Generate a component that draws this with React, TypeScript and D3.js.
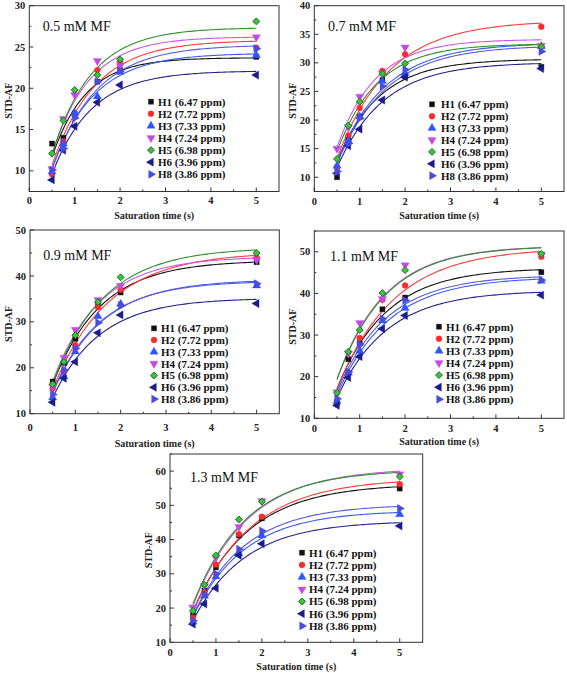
import React from "react";
import * as d3 from "d3";

// Saturation times (s)
const TIMES = [0.5, 0.75, 1, 1.5, 2, 5];
const SERIES = [
  "H1 (6.47 ppm)",
  "H2 (7.72 ppm)",
  "H3 (7.33 ppm)",
  "H4 (7.24 ppm)",
  "H5 (6.98 ppm)",
  "H6 (3.96 ppm)",
  "H8 (3.86 ppm)",
];
const X_TICKS = [0, 1, 2, 3, 4, 5];

// STD-AF values, rows = H1,H2,H3,H4,H5,H6,H8 ; columns = TIMES
const MF05 = [
  [13.3, 14.0, 16.9, 20.8, 22.2, 23.8],
  [9.6, 13.6, 16.8, 22.2, 23.2, 24.9],
  [9.9, 13.3, 17.0, 19.0, 22.0, 24.0],
  [10.2, 16.3, 19.2, 23.3, 22.7, 26.2],
  [12.1, 16.1, 19.8, 21.6, 23.5, 28.1],
  [8.9, 12.5, 15.4, 18.3, 20.4, 21.6],
  [10.1, 12.7, 16.4, 20.8, 22.1, 24.8],
];
const MF07 = [
  [10.0, 16.8, 20.6, 27.0, 27.6, 29.3],
  [11.8, 17.3, 22.1, 28.6, 31.5, 36.3],
  [12.0, 16.4, 20.6, 26.8, 28.2, 32.9],
  [15.0, 18.8, 24.1, 28.2, 32.7, 33.0],
  [13.2, 19.0, 23.2, 28.1, 29.9, 32.8],
  [10.7, 15.5, 18.4, 23.5, 27.5, 29.0],
  [11.0, 15.9, 20.3, 25.9, 28.8, 32.0],
];
const MF09 = [
  [17.0, 21.1, 26.3, 33.9, 36.4, 43.0],
  [15.5, 19.3, 24.9, 33.2, 37.0, 44.0],
  [13.5, 18.1, 23.5, 31.2, 33.9, 37.9],
  [15.9, 22.2, 28.3, 34.8, 37.9, 43.5],
  [16.4, 21.3, 27.1, 34.3, 39.7, 45.0],
  [12.5, 17.7, 21.3, 27.6, 31.5, 34.0],
  [14.2, 19.5, 24.2, 29.8, 33.5, 38.3],
];
const MF11 = [
  [14.0, 24.2, 28.0, 36.2, 39.0, 45.1],
  [13.5, 21.0, 29.3, 38.5, 41.9, 48.8],
  [14.1, 20.9, 26.2, 33.5, 36.5, 43.0],
  [16.3, 25.6, 32.9, 38.7, 46.8, 49.4],
  [16.1, 26.0, 31.2, 40.1, 45.6, 49.5],
  [13.1, 19.8, 24.8, 31.5, 34.7, 39.6],
  [14.7, 21.1, 27.8, 33.9, 38.3, 43.2],
];
const MF13 = [
  [18.0, 25.1, 31.9, 41.2, 46.2, 54.9],
  [17.2, 24.6, 32.7, 41.6, 46.7, 56.2],
  [16.0, 23.6, 29.2, 35.9, 41.2, 47.4],
  [20.2, 26.5, 34.7, 43.7, 51.3, 59.1],
  [19.2, 26.8, 35.4, 45.9, 51.1, 58.4],
  [15.3, 21.2, 25.8, 35.4, 38.8, 44.0],
  [16.3, 23.9, 30.0, 37.2, 42.5, 49.1],
];

const COLORS = ["#111111", "#ff2a2a", "#2f55ff", "#c44ae6", "#39c439", "#1c1c8c", "#4b4bdc"];
const LINE_COLORS = ["#111111", "#ff3a3a", "#3a5cf0", "#c85ae8", "#2f8f2f", "#22228c", "#5a5ae0"];
const SHAPES = ["square", "circle", "up", "down", "diamond", "left", "right"];

const PANELS = [
  { title: "0.5 mM MF", data: MF05, l: 29.3, r: 279, t: 5.7, b: 191.5, yd: [7.5, 30], yt: [10, 15, 20, 25, 30], minor: 2.5,
    tx: 42.7, ty: 31, lmx: 151, ltx: 158, ly: 101.7, ls: 12.1, ytx: 8, xly: 204, xty: 218.5 },
  { title: "0.7 mM MF", data: MF07, l: 314.3, r: 564, t: 5.7, b: 191.5, yd: [7.5, 40], yt: [10, 15, 20, 25, 30, 35, 40], minor: 2.5,
    tx: 328, ty: 31, lmx: 432, ltx: 441, ly: 104.3, ls: 11.9, ytx: 292, xly: 205, xty: 218.5 },
  { title: "0.9 mM MF", data: MF09, l: 30, r: 279.3, t: 230, b: 413.7, yd: [10, 50], yt: [10, 20, 30, 40, 50], minor: 5,
    tx: 43.3, ty: 260, lmx: 154, ltx: 161, ly: 328.3, ls: 11.8, ytx: 8, xly: 430.5, xty: 446.5 },
  { title: "1.1 mM MF", data: MF11, l: 314.3, r: 564, t: 231, b: 418.3, yd: [10, 55], yt: [10, 20, 30, 40, 50], minor: 5,
    tx: 330, ty: 261, lmx: 439, ltx: 446, ly: 326.7, ls: 12.1, ytx: 292, xly: 431.5, xty: 445 },
  { title: "1.3 mM MF", data: MF13, l: 170, r: 422.7, t: 454, b: 642.3, yd: [10, 65], yt: [10, 20, 30, 40, 50, 60], minor: 5,
    tx: 190, ty: 482, lmx: 302, ltx: 309, ly: 552.7, ls: 12.2, ytx: 148, xly: 655.5, xty: 669.5 },
];

function fitExp(ts: number[], ys: number[]) {
  let best = { A: 0, k: 0, sse: Infinity };
  for (let k = 0.05; k <= 6; k += 0.002) {
    let sf = 0, sff = 0;
    ts.forEach((t, i) => { const f = 1 - Math.exp(-k * t); sf += ys[i] * f; sff += f * f; });
    const A = sf / sff;
    let sse = 0;
    ts.forEach((t, i) => { const r = ys[i] - A * (1 - Math.exp(-k * t)); sse += r * r; });
    if (sse < best.sse) best = { A, k, sse };
  }
  return best;
}

function symbolPath(shape: string) {
  switch (shape) {
    case "square": return { d: d3.symbol(d3.symbolSquare, 27)()!, rot: 0 };
    case "circle": return { d: d3.symbol(d3.symbolCircle, 28)()!, rot: 0 };
    case "diamond": return { d: d3.symbol(d3.symbolSquare, 24)()!, rot: 45 };
    case "up": return { d: d3.symbol(d3.symbolTriangle, 30)()!, rot: 0 };
    case "down": return { d: d3.symbol(d3.symbolTriangle, 30)()!, rot: 180 };
    case "left": return { d: d3.symbol(d3.symbolTriangle, 30)()!, rot: -90 };
    default: return { d: d3.symbol(d3.symbolTriangle, 30)()!, rot: 90 };
  }
}

function Marker({ x, y, i }: { x: number; y: number; i: number }) {
  const s = symbolPath(SHAPES[i]);
  const isH5 = i === 4;
  return (
    <path
      d={s.d}
      transform={`translate(${x},${y}) rotate(${s.rot})`}
      fill={COLORS[i]}
      stroke={isH5 ? "#1f6a1f" : COLORS[i]}
      strokeWidth={isH5 ? 0.9 : 0.3}
    />
  );
}

const SERIF = "'Liberation Serif', 'Times New Roman', serif";

function Panel({ p }: { p: typeof PANELS[number] }) {
  const x = d3.scaleLinear().domain([0, 5.5]).range([p.l, p.r]);
  const y = d3.scaleLinear().domain(p.yd).range([p.b, p.t]);
  const curveTs = d3.range(0.5, 5.0001, 0.05);
  const line = d3.line<number[]>().x((d) => x(d[0])).y((d) => y(d[1]));
  const xMinor = d3.range(0.5, 5.5, 1);
  const yMinor = d3.range(p.yd[0], p.yd[1] + 0.001, p.minor).filter((v) => !p.yt.includes(v));
  const fits = p.data.map((row) => fitExp(TIMES, row));
  const axisColor = "#333";
  return (
    <g>
      {fits.map((f, i) => (
        <path
          key={"c" + i}
          d={line(curveTs.map((t) => [t, f.A * (1 - Math.exp(-f.k * t))]))!}
          fill="none"
          stroke={LINE_COLORS[i]}
          strokeWidth={1.1}
        />
      ))}
      {p.data.map((row, i) =>
        row.map((v, j) => <Marker key={`m${i}-${j}`} x={x(TIMES[j])} y={y(v)} i={i} />)
      )}
      <rect x={p.l} y={p.t} width={p.r - p.l} height={p.b - p.t} fill="none" stroke={axisColor} strokeWidth={1} />
      {X_TICKS.map((v) => (
        <g key={"xt" + v}>
          <line x1={x(v)} x2={x(v)} y1={p.b} y2={p.b - 4} stroke={axisColor} />
          <text x={x(v)} y={p.xly} textAnchor="middle" fontFamily={SERIF} fontWeight="bold" fontSize={10.5} fill="#222">{v}</text>
        </g>
      ))}
      {xMinor.map((v) => (
        <line key={"xm" + v} x1={x(v)} x2={x(v)} y1={p.b} y2={p.b - 2} stroke={axisColor} />
      ))}
      {p.yt.map((v) => (
        <g key={"yt" + v}>
          <line x1={p.l} x2={p.l + 4} y1={y(v)} y2={y(v)} stroke={axisColor} />
          <text x={p.l - 4} y={y(v) + 3.6} textAnchor="end" fontFamily={SERIF} fontWeight="bold" fontSize={10.5} fill="#222">{v}</text>
        </g>
      ))}
      {yMinor.map((v) => (
        <line key={"ym" + v} x1={p.l} x2={p.l + 2} y1={y(v)} y2={y(v)} stroke={axisColor} />
      ))}
      <text x={p.tx} y={p.ty} fontFamily={SERIF} fontSize={14} fill="#111">{p.title}</text>
      <text x={(p.l + p.r) / 2} y={p.xty} textAnchor="middle" fontFamily={SERIF} fontWeight="bold" fontSize={10} fill="#222">Saturation time (s)</text>
      <text
        transform={`translate(${p.ytx + 3.5},${(p.t + p.b) / 2 + 2}) rotate(-90)`}
        textAnchor="middle"
        fontFamily={SERIF}
        fontWeight="bold"
        fontSize={10}
        fill="#222"
      >STD-AF</text>
      {SERIES.map((s, i) => (
        <g key={"lg" + i}>
          <Marker x={p.lmx} y={p.ly + i * p.ls} i={i} />
          <text x={p.ltx} y={p.ly + i * p.ls + 3.8} fontFamily={SERIF} fontWeight="bold" fontSize={11} fill="#111">{s}</text>
        </g>
      ))}
    </g>
  );
}

export default function App() {
  return (
    <svg width={567} height={673} style={{ position: "absolute", left: 0, top: 0, background: "#fff" }}>
      <rect x={0} y={0} width={567} height={673} fill="#fff" />
      {PANELS.map((p, i) => <Panel key={i} p={p} />)}
    </svg>
  );
}
